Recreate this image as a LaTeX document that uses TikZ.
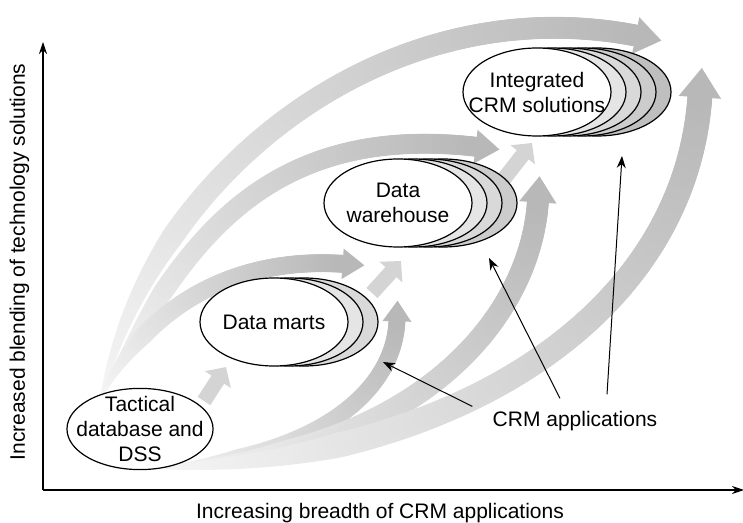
\documentclass[tikz,border=0pt]{standalone}
\usepackage{fontspec}
\setmainfont{Liberation Sans}
\usetikzlibrary{shapes.geometric,arrows.meta,decorations.markings}

\begin{document}
\begin{tikzpicture}[x=0.5pt,y=-0.5pt,
  every node/.style={font=\fontsize{10.5}{12.5}\selectfont},
  blob/.style={ellipse,draw,line width=0.6pt,fill=white,inner sep=0pt,
    minimum width=74pt,minimum height=44pt,align=center},
  fan/.style={
    postaction={decorate,decoration={markings,
      mark=between positions 0 and 1 step 1pt with {
        \pgfmathsetmacro\fr{\pgfkeysvalueof{/pgf/decoration/mark info/distance from start}/\pgfdecoratedpathlength}
        \pgfmathsetmacro\tone{4+24*\fr}
        \pgfmathsetmacro\rad{#1*min(1,0.2+\fr/0.3)}
        \fill[black!\tone] (0pt,0pt) circle (\rad pt);}}},
    postaction={decorate,decoration={markings,
      mark=at position -0.2pt with {\fill[black!28] (-1pt,-1.7*#1pt) -- (2.2*#1pt,0pt) -- (-1pt,1.7*#1pt) -- cycle;}}}},
  hop/.style={line width=7.5pt,black!17,-{Triangle[width=15pt,length=7.5pt]}},
  ptr/.style={line width=0.5pt,-{Stealth[length=6pt,width=4.5pt]}},
  axis/.style={line width=0.6pt,-{Stealth[length=6pt,width=4pt]}}]
  \useasboundingbox (0,0) rectangle (743,523);
  % axes
  \coordinate (orig) at (43,490);
  \coordinate (ytop) at (43,42);
  \coordinate (xend) at (744,490);
  \draw[axis] (orig) -- (ytop);
  \draw[axis] (orig) -- (xend);
  \node[anchor=base] (xlab) at (380,518) {Increasing breadth of CRM applications};
  \node[rotate=90,anchor=base] (ylab) at (25,262) {Increased blending of technology solutions};
  % grey bands out of the first stage
  \coordinate (fanup) at (103,393);
  \coordinate (fanlo) at (167,467);
  \coordinate (hA) at (638,36);  \coordinate (hB) at (478,147);
  \coordinate (hC) at (345,264); \coordinate (hD) at (397,319);
  \coordinate (hE) at (538,200); \coordinate (hF) at (700,95);
  \path[fan=5.5] (fanup) .. controls (150,180) and (380,-15) .. (hA);
  \path[fan=5] (fanup) .. controls (175,265) and (250,120) .. (hB);
  \path[fan=4.5] (fanup) .. controls (140,320) and (220,255) .. (hC);
  \path[fan=4.25] (fanlo) .. controls (300,460) and (395,400) .. (hD);
  \path[fan=5.5] (fanlo) .. controls (400,460) and (530,330) .. (hE);
  \path[fan=6.25] (fanlo) .. controls (450,460) and (685,320) .. (hF);
  % short steps between stages
  \coordinate (s1a) at (204,401); \coordinate (s1b) at (226,367);
  \coordinate (s2a) at (372,293); \coordinate (s2b) at (401,261);
  \coordinate (s3a) at (503,180); \coordinate (s3b) at (532,143);
  \draw[hop] (s1a) -- (s1b);
  \draw[hop] (s2a) -- (s2b);
  \draw[hop] (s3a) -- (s3b);
  % stages
  \node[blob,inner xsep=-6pt,inner ysep=-2pt,minimum width=73pt,minimum height=40pt] (tac) at (140,429) {Tactical\\database and\\DSS};
  \foreach \k [evaluate=\k as \tn using 5+5*\k] in {2,1}
    \node[blob,fill=black!\tn] (dm\k) at (274+15*\k,322) {};
  \node[blob] (dm) at (274,322) {Data marts};
  \foreach \k [evaluate=\k as \tn using 5+5*\k] in {3,2,1}
    \node[blob,fill=black!\tn] (dw\k) at (398+15*\k,203) {};
  \node[blob] (dw) at (398,203) {Data\\warehouse};
  \foreach \k [evaluate=\k as \tn using 5+5*\k] in {4,3,2,1}
    \node[blob,fill=black!\tn] (int\k) at (537+15*\k,92) {};
  \node[blob,inner xsep=-9pt] (int) at (537,92) {Integrated\\CRM solutions};
  % pointers
  \node[anchor=base,inner sep=0pt] (crm) at (575,426) {CRM applications};
  \coordinate (p1) at (383,362);
  \coordinate (p2) at (489,258);
  \coordinate (p3) at (622,156);
  \draw[ptr] ([xshift=-10pt,yshift=2pt]crm.north west) -- (p1);
  \draw[ptr] ([xshift=-7.5pt,yshift=6pt]crm.north) -- (p2);
  \draw[ptr] ([xshift=16pt,yshift=8pt]crm.north) -- (p3);
\end{tikzpicture}
\end{document}
